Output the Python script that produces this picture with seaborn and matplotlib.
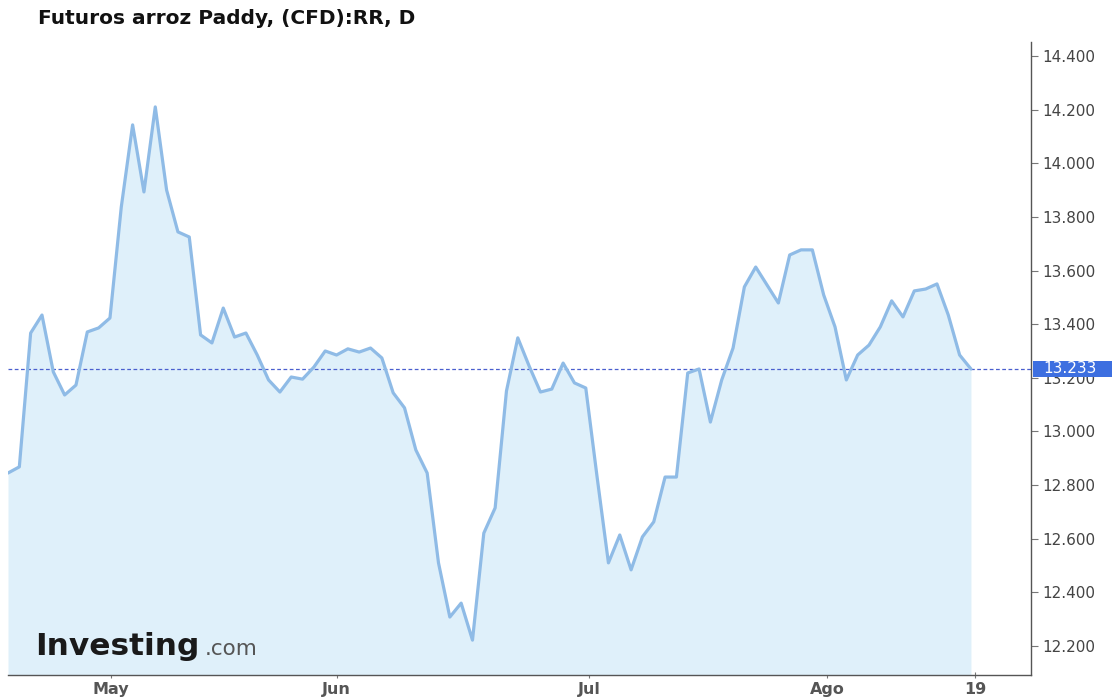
import numpy as np
import pandas as pd
import matplotlib
matplotlib.use("Agg")
import matplotlib.pyplot as plt
import seaborn as sns
from matplotlib.ticker import FuncFormatter, FixedLocator
from matplotlib.patches import Rectangle

# ---- data (daily closes) ----
prices = [
    12.845, 12.868, 13.367, 13.434, 13.222, 13.136, 13.173, 13.371, 13.386, 13.423,
    13.837, 14.143, 13.893, 14.210, 13.900, 13.744, 13.725, 13.360, 13.330, 13.460,
    13.352, 13.367, 13.285, 13.192, 13.147, 13.203, 13.195, 13.240, 13.300, 13.285,
    13.308, 13.296, 13.311, 13.274, 13.144, 13.088, 12.931, 12.845, 12.510, 12.308,
    12.360, 12.222, 12.621, 12.715, 13.151, 13.349, 13.244, 13.147, 13.158, 13.255,
    13.181, 13.162, 12.830, 12.510, 12.614, 12.484, 12.607, 12.663, 12.830, 12.830,
    13.218, 13.233, 13.035, 13.192, 13.311, 13.539, 13.613, 13.546, 13.479, 13.658,
    13.677, 13.677, 13.509, 13.390, 13.192, 13.285, 13.322, 13.390, 13.487, 13.427,
    13.524, 13.531, 13.550, 13.434, 13.285, 13.233,
]
month_labels = ["May", "Jun", "Jul", "Ago", "19"]
month_positions = [9.1, 29.0, 51.3, 72.3, 85.4]
y_ticks = [12.2, 12.4, 12.6, 12.8, 13.0, 13.2, 13.4, 13.6, 13.8, 14.0, 14.2, 14.4]
last_price = 13.233
title = "Futuros arroz Paddy, (CFD):RR, D"

df = pd.DataFrame({"bar": np.arange(len(prices)), "price": prices})

sns.set_theme(style="white")
plt.rcParams["font.family"] = ["DejaVu Sans"]

fig = plt.figure(figsize=(11.12, 6.98), dpi=100)
ax = fig.add_axes([8 / 1112, 1 - 675 / 698, (1031 - 8) / 1112, (675 - 42) / 698])

ymin, ymax = 12.092, 14.452
ax.fill_between(df["bar"], df["price"], ymin, color="#dff0fa", lw=0, zorder=1)
sns.lineplot(data=df, x="bar", y="price", ax=ax, color="#8fbbe6", lw=2.3, zorder=3)
ax.axhline(last_price, color="#4a5fcf", lw=0.9, ls=(0, (3, 2)), zorder=2)

ax.set_xlim(0, 90.3)
ax.set_ylim(ymin, ymax)
ax.set_xlabel("")
ax.set_ylabel("")

for s in ["left", "top"]:
    ax.spines[s].set_visible(False)
for s in ["right", "bottom"]:
    ax.spines[s].set_color("#555555")
    ax.spines[s].set_linewidth(1.0)

ax.yaxis.tick_right()
ax.yaxis.set_major_locator(FixedLocator(y_ticks))
ax.yaxis.set_major_formatter(FuncFormatter(lambda v, p: f"{v:.3f}"))
ax.tick_params(axis="y", which="both", right=True, left=False, length=5, width=0.8,
               color="#777777", labelsize=11, labelcolor="#444444", pad=3)

ax.set_xticks(month_positions)
ax.set_xticklabels(month_labels, fontweight="bold")
ax.tick_params(axis="x", bottom=True, length=4, width=0.8, direction="inout",
               color="#777777", labelsize=11.5, labelcolor="#555555", pad=3)

# current price label box
ytr = ax.get_yaxis_transform()
ax.add_patch(Rectangle((1.002, last_price - 0.0315), 0.08, 0.063, transform=ytr,
                       fc="#3d6fe0", ec="none", zorder=9, clip_on=False))
ax.text(1.012, last_price, f"{last_price:.3f}", transform=ytr,
        ha="left", va="center", fontsize=11, color="white", zorder=10, clip_on=False)

fig.text(38 / 1112, 1 - 19 / 698, title, fontsize=14.5, fontweight="bold",
         color="#111111", ha="left", va="center")

# watermark
fig.text(35 / 1112, 1 - 655 / 698, "Investing", fontsize=22.5, fontweight="bold",
         color="#1a1a1a", ha="left", va="baseline")
fig.text(205 / 1112, 1 - 655 / 698, ".com", fontsize=15.5, color="#555555",
         ha="left", va="baseline")

fig.savefig("out.png", dpi=100)
